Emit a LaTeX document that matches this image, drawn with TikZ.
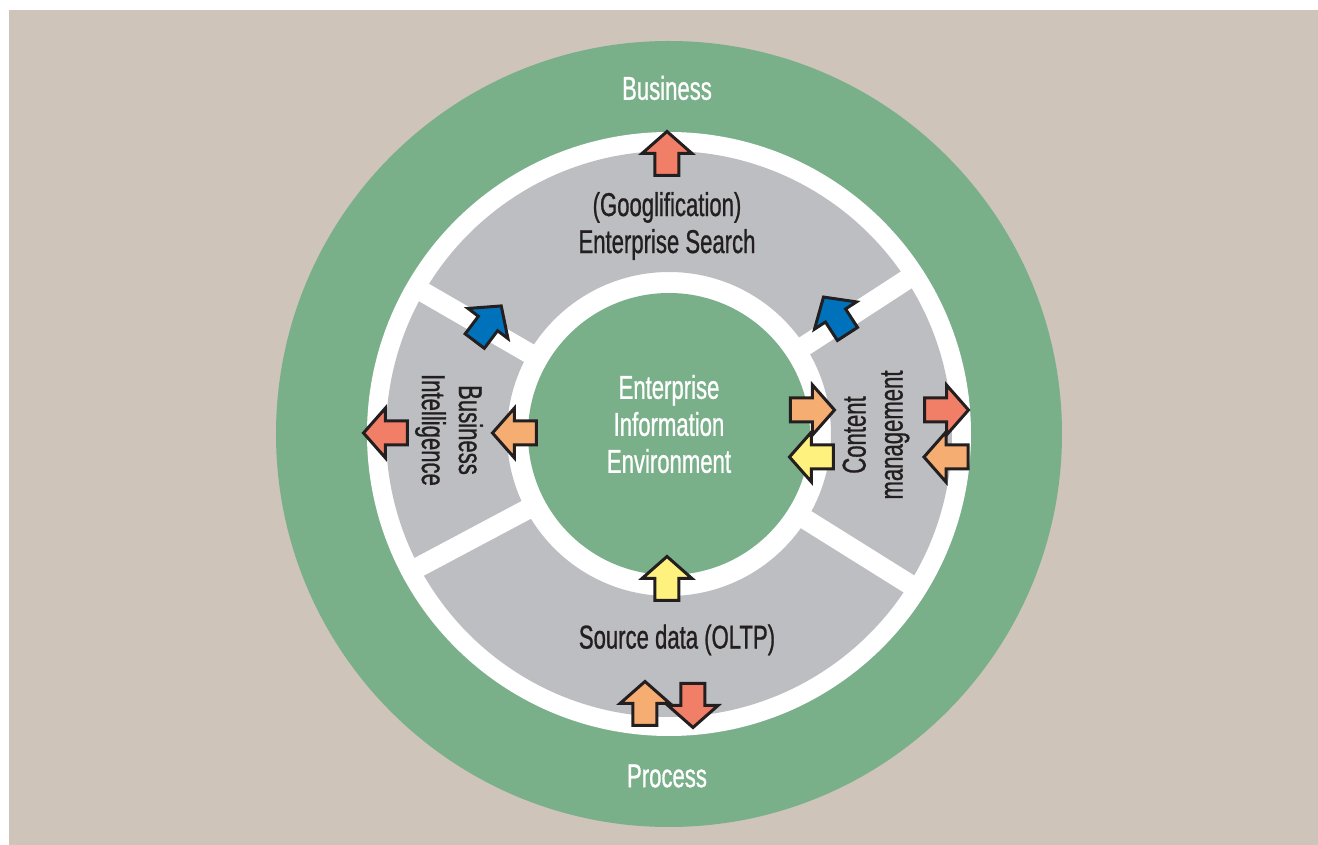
\documentclass[tikz,border=0pt]{standalone}
\usepackage{fontspec}
\setmainfont[FakeStretch=0.67,FakeBold=0.8]{Liberation Sans}
\definecolor{sand}{RGB}{206,196,186}
\definecolor{ringgreen}{RGB}{121,176,138}
\definecolor{sectorgray}{RGB}{189,190,194}
\definecolor{inkdark}{RGB}{35,31,32}
\definecolor{salmon}{RGB}{241,126,103}
\definecolor{peach}{RGB}{246,173,114}
\definecolor{lemon}{RGB}{255,241,125}
\definecolor{cobalt}{RGB}{0,114,188}
\tikzset{
  label/.style={font=\fontsize{33}{37}\selectfont, align=center, inner sep=0pt},
  onring/.style={label, text=white},
  onsector/.style={label, text=inkdark},
  pics/blockarrow/.style={code={
    \draw[line width=3, draw=inkdark, fill=#1, line join=miter]
      (-22,-12) -- (0,-12) -- (0,-25) -- (22,0) -- (0,25) -- (0,12) -- (-22,12) -- cycle;}}
}
\begin{document}
\begin{tikzpicture}[x=1pt,y=1pt]
	\useasboundingbox (-669,-411) rectangle (649,434);
	\fill[sand] (-660,-411) rectangle (649,424);
	% rings
	\fill[ringgreen] (0,0) circle (393);
	\fill[white] (0,0) circle (302);
	\fill[sectorgray, even odd rule] (0,0) circle (283) (0,0) circle (162);
	\foreach \a in {33,150,208,328}
		\draw[white, line width=20] (\a:150) -- (\a:295);
	\fill[ringgreen] (0,0) circle (141);
	% labels
	\node[onring] (business) at (-2,346) {Business};
	\node[onring] (process) at (-2,-342) {Process};
	\node[onring] (eie) at (0,10) {Enterprise\\Information\\Environment};
	\node[onsector] (search) at (-2,208) {(Googlification)\\Enterprise Search};
	\node[onsector] (source) at (8,-206) {Source data (OLTP)};
	\node[onsector, rotate=-90] (bi) at (-220,4) {Business\\Intelligence};
	\node[onsector, rotate=90] (cm) at (207,-1) {Content\\management};
	% arrows
	\pic[rotate=90] at (-2,280.5) {blockarrow=salmon};
	\pic[rotate=53] at (-181,110.5) {blockarrow=cobalt};
	\pic[rotate=123] at (166.5,118.5) {blockarrow=cobalt};
	\pic[rotate=180] at (-283.5,1) {blockarrow=salmon};
	\pic[rotate=180] at (-154.5,1) {blockarrow=peach};
	\pic at (143.5,24) {blockarrow=peach};
	\pic[rotate=180] at (142.5,-23) {blockarrow=lemon};
	\pic at (277.5,24) {blockarrow=salmon};
	\pic[rotate=180] at (277,-23) {blockarrow=peach};
	\pic[rotate=90] at (-2,-144.5) {blockarrow=lemon};
	\pic[rotate=90] at (-24,-269.5) {blockarrow=peach};
	\pic[rotate=-90] at (24,-271.5) {blockarrow=salmon};
\end{tikzpicture}
\end{document}
